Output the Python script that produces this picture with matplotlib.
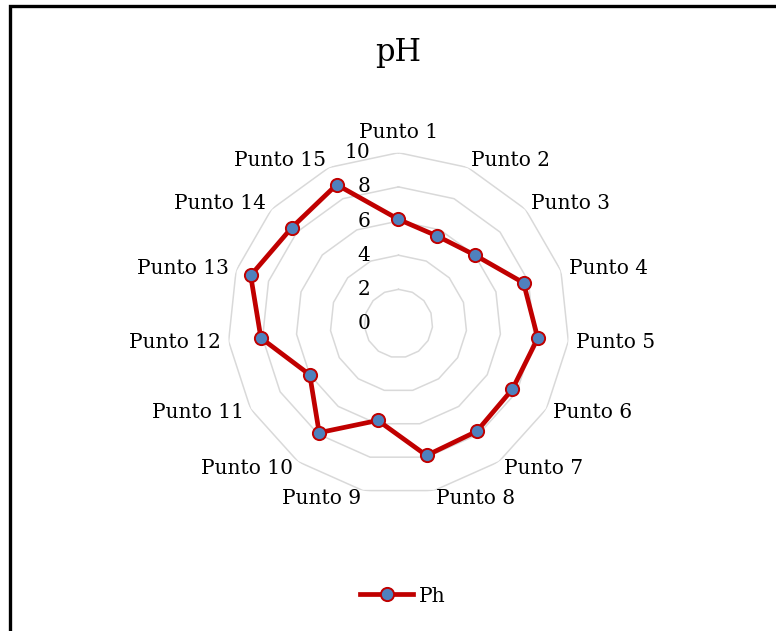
import numpy as np
import matplotlib
matplotlib.use("Agg")
import matplotlib.pyplot as plt
import matplotlib.transforms as mtransforms
from matplotlib.lines import Line2D

categories = ["Punto %d" % i for i in range(1, 16)]
ph_values = [6.1, 5.6, 6.0, 7.7, 8.2, 7.7, 7.8, 7.9, 5.8, 7.9, 6.0, 8.1, 9.1, 8.4, 8.9]
r_ticks = [0, 2, 4, 6, 8, 10]

plt.rcParams['font.family'] = ['DejaVu Serif']

fig = plt.figure(figsize=(7.76, 6.31), dpi=100)
ax = fig.add_axes([0.2934, 0.2166, 0.4402, 0.5414], projection='polar')
ax.set_theta_zero_location('N')
ax.set_theta_direction(-1)
ax.set_ylim(0, 10)
ax.patch.set_alpha(0)
ax.spines['polar'].set_visible(False)
ax.grid(False)
ax.set_xticks([])
ax.set_yticks([])

n = len(categories)
theta = np.linspace(0, 2 * np.pi, n, endpoint=False)
theta_closed = np.append(theta, theta[0])

# polygon rings
for r in r_ticks[1:]:
    ax.plot(theta_closed, [r] * (n + 1), color='#D9D9D9', lw=1.1, zorder=1)

# radial labels left of the top spoke
off = mtransforms.offset_copy(ax.transData, fig, x=-28, y=0, units='dots')
for r in r_ticks:
    ax.text(0, r, str(r), transform=off, ha='right', va='center', fontsize=14.5)

# category labels
for t, lab in zip(theta, categories):
    s, c = np.sin(t), np.cos(t)
    ha = 'left' if s > 0.1 else ('right' if s < -0.1 else 'center')
    va = 'bottom' if c > 0.99 else 'center'
    d = 11 if c > 0.99 else 8
    tr = mtransforms.offset_copy(ax.transData, fig, x=d * s, y=d * c, units='dots')
    ax.text(t, 10, lab, transform=tr, ha=ha, va=va, fontsize=14.5)

vals = ph_values + ph_values[:1]
ax.plot(theta_closed, vals, color='#C00000', lw=3.4, zorder=3)
ax.plot(theta, ph_values, ls='none', marker='o', ms=9.5, mfc='#4F81BD',
        mec='#C00000', mew=1.4, zorder=4)

fig.text(398 / 776, 1 - 52 / 631, 'pH', ha='center', va='center', fontsize=22)

handle = Line2D([], [], color='#C00000', lw=3.4, marker='o', ms=9.5,
                mfc='#4F81BD', mec='#C00000', mew=1.4)
fig.legend([handle], ['Ph'], loc='center', bbox_to_anchor=(403 / 776, 1 - 596 / 631),
           frameon=False, fontsize=14.5, handlelength=2.6, handletextpad=0.3)

# outer frame: only left and top edges are visible
fig.add_artist(Line2D([10 / 776, 10 / 776, 1.0], [0.0, 1 - 5.5 / 631, 1 - 5.5 / 631],
                      transform=fig.transFigure, color='black', lw=2.4,
                      solid_joinstyle='miter'))

fig.savefig('out.png', dpi=100)
